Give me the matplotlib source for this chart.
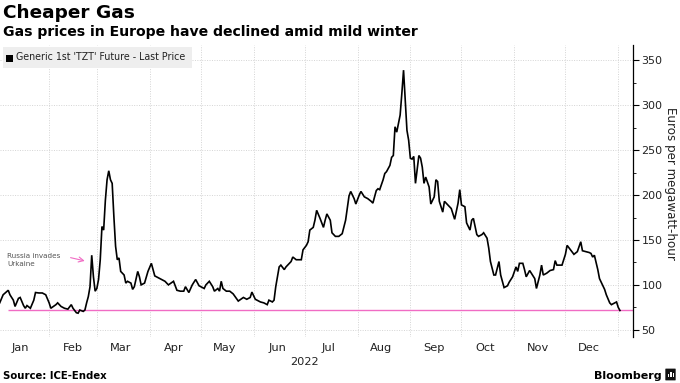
import numpy as np
import matplotlib
matplotlib.use("Agg")
import matplotlib.pyplot as plt
import matplotlib.dates as mdates
import matplotlib.transforms as mtransforms
from matplotlib.patches import Rectangle, FancyBboxPatch

# ---- data (day offsets from 2022-01-01, EUR/MWh) ----
days = [2, 4, 7, 8, 10, 11, 13, 14, 16, 17,
        18, 20, 22, 23, 25, 27, 29, 31, 32, 35,
        36, 38, 40, 42, 44, 45, 47, 48, 49, 51,
        52, 53, 54, 55, 56, 57, 58, 59, 60, 61,
        62, 63, 64, 65, 66, 67, 68, 69, 70, 71,
        72, 73, 74, 75, 76, 77, 79, 80, 81, 83,
        84, 85, 87, 89, 91, 93, 96, 99, 101, 104,
        106, 108, 110, 111, 113, 115, 117, 119, 122, 123,
        125, 127, 128, 130, 131, 132, 133, 135, 137, 139,
        142, 145, 147, 149, 150, 152, 155, 157, 159, 160,
        162, 163, 164, 166, 167, 169, 170, 172, 173, 174,
        176, 179, 180, 182, 183, 184, 186, 187, 188, 190,
        192, 193, 194, 196, 197, 199, 201, 203, 205, 207,
        208, 210, 211, 213, 214, 216, 218, 220, 221, 223,
        224, 225, 227, 228, 229, 231, 232, 233, 234, 235,
        237, 238, 239, 241, 242, 243, 244, 245, 246, 248,
        249, 250, 251, 252, 254, 255, 257, 258, 259, 260,
        262, 263, 265, 267, 269, 271, 272, 273, 275, 276,
        278, 279, 280, 282, 283, 285, 286, 288, 289, 290,
        292, 293, 295, 296, 298, 300, 301, 303, 305, 306,
        307, 309, 310, 311, 313, 314, 316, 317, 319, 320,
        321, 323, 325, 327, 328, 329, 332, 334, 335, 337,
        339, 341, 343, 344, 346, 348, 349, 350, 351, 353,
        354, 355, 357, 358, 360, 361, 363, 364, 365, 366]

prices = [80, 89, 94, 89, 83, 76, 85, 86, 77, 74,
          77, 74, 83, 91.5, 91, 91, 89, 80, 74, 78,
          80, 76, 74, 73, 78, 74, 69, 68.5, 72, 70.5,
          72, 80, 87, 98, 133, 109, 93, 96, 106, 128,
          165, 161, 194, 217, 227, 217, 213, 176, 143, 128,
          130, 115, 113, 111, 102, 104, 102, 95, 98, 115,
          109, 100, 102, 115, 124, 110, 107, 104, 100, 104,
          94, 93, 93, 98, 91.5, 100, 106, 99, 96, 100,
          104, 98, 93, 96, 93, 104, 96, 93, 93, 90,
          82, 86, 84, 86, 92, 84, 81, 80, 78, 83,
          81, 83, 98, 120, 122, 117, 120, 124, 126, 131,
          128, 128, 139, 144, 148, 161, 164, 172, 183, 174,
          164, 172, 179, 172, 158, 154, 154, 157, 172, 199,
          204, 196, 190, 200, 204, 198, 196, 193, 191, 205,
          207, 206, 217, 224, 226, 233, 242, 244, 276, 270,
          289, 313, 339, 272, 261, 241, 240, 243, 213, 244,
          241, 231, 213, 220, 209, 190, 198, 217, 215, 193,
          181, 193, 189, 185, 173, 191, 206, 189, 187, 169,
          161, 172, 174, 156, 154, 156, 158, 152, 141, 126,
          111, 111, 126, 111, 97, 99, 103, 109, 120, 115,
          124, 124, 117, 109, 116, 113, 107, 96, 111, 122,
          111, 113, 116, 117, 127, 122, 122, 134, 144, 139,
          134, 137, 148, 138, 137, 136, 135, 131, 133, 117,
          107, 103, 95, 89, 80, 78, 80, 81, 75, 71.5]

last_price_level = 71.5
invasion_day = 55
y_ticks = [50, 100, 150, 200, 250, 300, 350]

title = "Cheaper Gas"
subtitle = "Gas prices in Europe have declined amid mild winter"
legend_label = "Generic 1st 'TZT' Future - Last Price"
y_label = "Euros per megawatt-hour"
source = "Source: ICE-Endex"

base = np.datetime64("2022-01-01")
dates = base + np.array(days).astype("timedelta64[D]")

W, H = 680, 383
fig = plt.figure(figsize=(W / 100, H / 100), dpi=100)
fig.patch.set_facecolor("white")

ax = fig.add_axes([0 / W, 46 / H, 633 / W, 292 / H])
ax.set_facecolor("white")

ax.plot(dates, prices, color="black", lw=1.2, zorder=3, solid_joinstyle="miter")

x0 = base + np.timedelta64(int(2.2 * 24), "h")
x1 = base + np.timedelta64(int(373.7 * 24), "h")
ax.set_xlim(x0, x1)
ax.set_ylim(42, 367)

pink = "#f06cc4"
ax.hlines(last_price_level, base + np.timedelta64(7, "D"), x1, color=pink, lw=1.0, zorder=2)

# spines
for s in ["top", "left", "bottom"]:
    ax.spines[s].set_visible(False)
ax.spines["right"].set_color("black")
ax.spines["right"].set_linewidth(0.9)

# y axis
ax.yaxis.tick_right()
ax.set_yticks(y_ticks)
ax.set_yticks([75, 125, 175, 225, 275, 325], minor=True)
ax.tick_params(axis="y", which="major", length=4, width=0.8, pad=2,
               labelsize=8, labelcolor="#222222", color="black")
ax.tick_params(axis="y", which="minor", length=2, width=0.6, color="black")

# x axis
ax.xaxis.set_major_locator(mdates.MonthLocator())
ax.xaxis.set_major_formatter(plt.NullFormatter())
ax.xaxis.set_minor_locator(mdates.MonthLocator(bymonthday=15))
ax.xaxis.set_minor_formatter(mdates.DateFormatter("%b"))
ax.tick_params(axis="x", which="both", length=0, pad=4, labelsize=8.2, labelcolor="#222222")

ax.grid(True, which="major", axis="both", color="#d4d4d4", lw=0.7, ls=(0, (1, 1.5)))
ax.set_axisbelow(True)

trans = mtransforms.blended_transform_factory(ax.transData, ax.transAxes)
ax.text(np.datetime64("2022-07-01"), -0.07, "2022", transform=trans,
        ha="center", va="top", fontsize=8.2, color="#222222")

# annotation
ax.annotate("", xy=(base + np.timedelta64(invasion_day - 2, "D") + np.timedelta64(12, "h"), 126),
            xytext=(base + np.timedelta64(42, "D"), 131),
            arrowprops=dict(arrowstyle="->", color=pink, lw=0.8, mutation_scale=9), zorder=4)
fig.text(7 / W, 1 - 253 / H, "Russia invades\nUrkaine", fontsize=5.2, color="#555555",
         ha="left", va="top", linespacing=1.35)

# titles
fig.text(3 / W, 1 - 4 / H, title, fontsize=13.3, fontweight="bold", ha="left", va="top", color="black")
fig.text(3 / W, 1 - 25 / H, subtitle, fontsize=10.05, fontweight="bold", ha="left", va="top", color="black")

# legend box
fig.patches.append(Rectangle((3 / W, 315 / H), 189 / W, 21 / H, transform=fig.transFigure,
                             facecolor="#eeeeee", edgecolor="none", zorder=5))
fig.patches.append(Rectangle((6 / W, 321 / H), 7 / W, 7 / H, transform=fig.transFigure,
                             facecolor="black", edgecolor="none", zorder=6))
fig.text(16 / W, 325.5 / H, legend_label, fontsize=6.85, color="#222222", ha="left", va="center", zorder=7)

# y label
fig.text(670 / W, 1 - 183 / H, y_label, rotation=270, fontsize=8.6, color="#222222",
         ha="center", va="center")

# footer
fig.text(3 / W, 1 - 376 / H, source, fontsize=7.3, fontweight="bold", ha="left", va="center")
fig.text(662 / W, 1 - 376 / H, "Bloomberg", fontsize=8, fontweight="bold", ha="right", va="center")
fig.patches.append(FancyBboxPatch((666 / W, 3 / H), 9 / W, 11 / H, boxstyle="round,pad=0.001",
                                  transform=fig.transFigure, facecolor="#111111", edgecolor="none"))
for bx, bh in [(668, 3), (670.3, 5), (672.6, 4)]:
    fig.patches.append(Rectangle((bx / W, 6 / H), 1.3 / W, bh / H, transform=fig.transFigure,
                                 facecolor="white", edgecolor="none", zorder=3))
fig.savefig("out.png", dpi=100, facecolor="white")
